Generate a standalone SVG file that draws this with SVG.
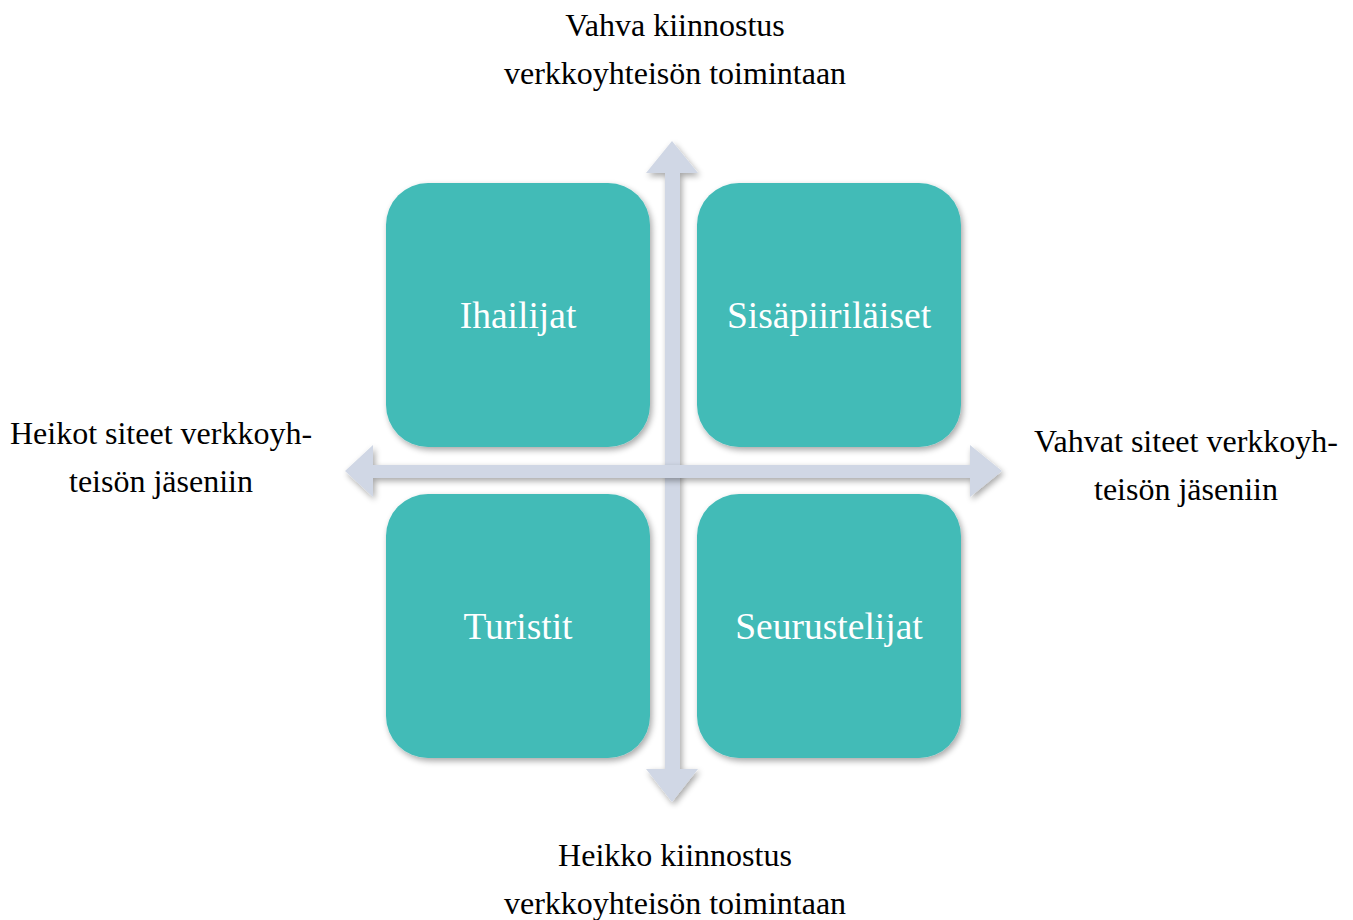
<svg xmlns="http://www.w3.org/2000/svg" width="1353" height="920" viewBox="0 0 1353 920">
<defs>
<filter id="sh" x="-10%" y="-10%" width="130%" height="130%">
<feGaussianBlur in="SourceAlpha" stdDeviation="3"/>
<feOffset dx="2" dy="3" result="b"/>
<feComponentTransfer><feFuncA type="linear" slope="0.35"/></feComponentTransfer>
<feMerge><feMergeNode/><feMergeNode in="SourceGraphic"/></feMerge>
</filter>
<style>
.box{fill:#42BBB7;filter:url(#sh)}
.arr{fill:#D0D7E5;filter:url(#sh)}
.bt{font-family:"Liberation Serif",serif;font-size:37.5px;fill:#fff;text-anchor:middle}
.lt{font-family:"Liberation Serif",serif;font-size:32px;fill:#000;text-anchor:middle}
</style>
</defs>
<rect width="1353" height="920" fill="#fff"/>
<g id="connectors">
<path class="arr" d="M665,173 L646,173 L672,141 L698,173 L680,173 L680,769 L698,769 L672,802 L646,769 L665,769 Z"/>
<path class="arr" d="M373,465 L373,445 L345,471 L373,497 L373,478 L970,478 L970,497 L1002,471 L970,445 L970,465 Z"/>
</g>
<g id="n1"><rect class="box" x="386" y="183" width="264" height="264" rx="42"/><text class="bt" x="518" y="328">Ihailijat</text></g>
<g id="n2"><rect class="box" x="697" y="183" width="264" height="264" rx="42"/><text class="bt" x="829" y="328">Sisäpiiriläiset</text></g>
<g id="n3"><rect class="box" x="386" y="494" width="264" height="264" rx="42"/><text class="bt" x="518" y="639">Turistit</text></g>
<g id="n4"><rect class="box" x="697" y="494" width="264" height="264" rx="42"/><text class="bt" x="829" y="639">Seurustelijat</text></g>
<g id="labels">
<text class="lt" x="675" y="36">Vahva kiinnostus</text>
<text class="lt" x="675" y="84">verkkoyhteisön toimintaan</text>
<text class="lt" x="161" y="444">Heikot siteet verkkoyh-</text>
<text class="lt" x="161" y="492">teisön jäseniin</text>
<text class="lt" x="1186" y="452">Vahvat siteet verkkoyh-</text>
<text class="lt" x="1186" y="500">teisön jäseniin</text>
<text class="lt" x="675" y="866">Heikko kiinnostus</text>
<text class="lt" x="675" y="914">verkkoyhteisön toimintaan</text>
</g>
</svg>
